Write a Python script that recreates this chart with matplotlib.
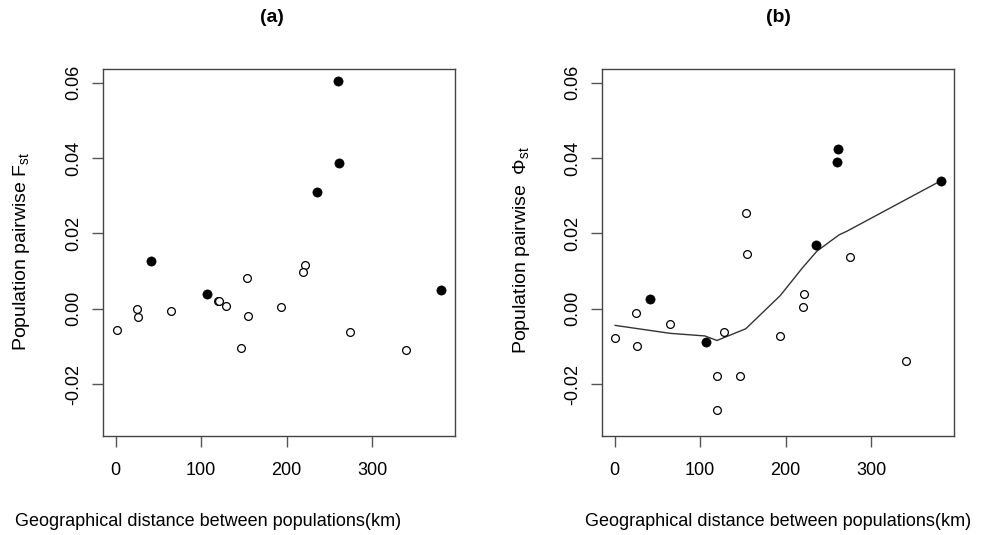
import matplotlib
matplotlib.use("Agg")
import matplotlib.pyplot as plt
import numpy as np

plt.rcParams['font.family'] = ['Liberation Sans', 'DejaVu Sans']
plt.rcParams['mathtext.fontset'] = 'custom'
plt.rcParams['mathtext.rm'] = 'Liberation Sans'
plt.rcParams['mathtext.it'] = 'Liberation Sans'

# Panel (a): pairwise Fst vs geographic distance
a_filled_dist = [42, 107, 235, 259.5, 261, 380.7]
a_filled_val = [0.0126, 0.0038, 0.0310, 0.0605, 0.0386, 0.0050]
a_open_dist = [1.5, 25.6, 26.8, 65.3, 120, 121, 128.6, 153.8, 155, 146.5, 193.5, 221, 219.6, 274.5, 339]
a_open_val = [-0.0057, 0.0000, -0.0022, -0.0005, 0.0022, 0.0020, 0.0008, 0.0083, -0.0019, -0.0103,
              0.0005, 0.0116, 0.0098, -0.0062, -0.0110]

# Panel (b): pairwise PhiST vs geographic distance
b_filled_dist = [41.3, 106.5, 235.3, 261, 260.3, 381.7]
b_filled_val = [0.0026, -0.0087, 0.0168, 0.0423, 0.0389, 0.0340]
b_open_dist = [0.7, 25, 26.1, 64.8, 128.3, 119.7, 119.7, 146.4, 153.8, 155, 193.6, 221.3, 219.7, 275.2, 340.3]
b_open_val = [-0.0078, -0.0010, -0.0098, -0.0041, -0.0062, -0.0177, -0.0268, -0.0177, 0.0255, 0.0146,
              -0.0073, 0.0039, 0.0005, 0.0137, -0.0138]

# Smoothed (loess) curve in panel (b)
loess_dist = [0.7, 64.8, 105.7, 119.7, 153.3, 193.6, 219.7, 236.5, 262.3, 271.7, 381.7]
loess_val = [-0.0044, -0.0065, -0.0072, -0.0084, -0.0053, 0.0035, 0.0109, 0.0153, 0.0196, 0.0206, 0.0340]

xticks = [0, 100, 200, 300]
yticks = [-0.02, 0.00, 0.02, 0.04, 0.06]
ytick_labels = ['-0.02', '0.00', '0.02', '0.04', '0.06']

W, H = 985, 535
fig = plt.figure(figsize=(W / 100, H / 100), dpi=100)

def px_axes(l, t, r, b):
    return fig.add_axes([l / W, 1 - b / H, (r - l) / W, (b - t) / H])

ax_a = px_axes(102.7, 69, 455.3, 435.5)
ax_b = px_axes(601.7, 69, 954.3, 435.5)

ms_open = 5.6
ms_fill = 6.6

for ax, fd, fv, od, ov in [(ax_a, a_filled_dist, a_filled_val, a_open_dist, a_open_val),
                           (ax_b, b_filled_dist, b_filled_val, b_open_dist, b_open_val)]:
    ax.plot(od, ov, 'o', ms=ms_open, mfc='white', mec='black', mew=0.9, ls='none', zorder=3)
    ax.plot(fd, fv, 'o', ms=ms_fill, mfc='black', mec='black', mew=0.5, ls='none', zorder=4)
    ax.set_xlim(-15, 397)
    ax.set_ylim(-0.0336, 0.0636)
    ax.set_xticks(xticks)
    ax.set_xticklabels([str(t) for t in xticks])
    ax.set_yticks(yticks)
    ax.set_yticklabels(ytick_labels, rotation=90, va='center')
    ax.tick_params(axis='both', direction='out', length=8, width=1, color='#555555',
                   labelsize=13, labelcolor='black')
    ax.tick_params(axis='x', pad=11)
    ax.tick_params(axis='y', pad=7)
    for sp in ax.spines.values():
        sp.set_color('#444444')
        sp.set_linewidth(1.0)

ax_b.plot(loess_dist, loess_val, '-', color='#333333', lw=1.0, zorder=2)

fig.text(272 / W, 1 - 18 / H, '(a)', ha='center', va='center', fontsize=14, fontweight='bold')
fig.text(778 / W, 1 - 18 / H, '(b)', ha='center', va='center', fontsize=14, fontweight='bold')

fig.text(208 / W, 1 - 521 / H, 'Geographical distance between populations(km)', ha='center', va='center', fontsize=13)
fig.text(778 / W, 1 - 521 / H, 'Geographical distance between populations(km)', ha='center', va='center', fontsize=13)

fig.text(22 / W, 1 - 251 / H, r'Population pairwise F$_{\mathrm{st}}$', rotation=90, ha='center', va='center', fontsize=14)
fig.text(522 / W, 1 - 250 / H, r'Population pairwise  $\Phi_{\mathrm{st}}$', rotation=90, ha='center', va='center', fontsize=14)

fig.savefig('out.png', dpi=100)
